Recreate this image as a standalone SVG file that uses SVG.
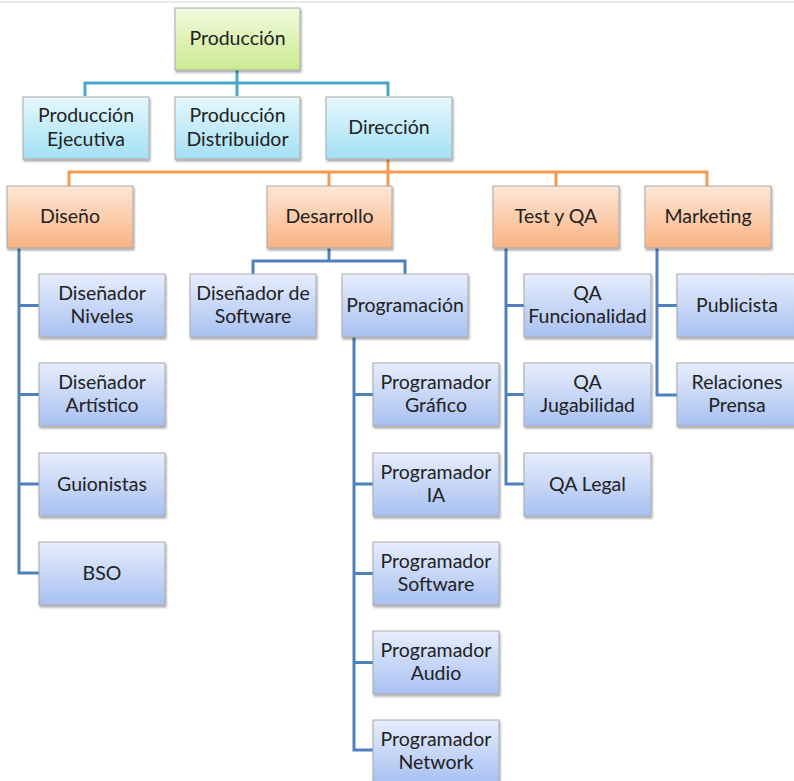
<svg xmlns="http://www.w3.org/2000/svg" width="794" height="781" viewBox="0 0 794 781">
<style>
.n{stroke:#a9a9a9;stroke-width:1;filter:url(#sh)}
.g{fill:url(#gG)}.c{fill:url(#gC)}.o{fill:url(#gO)}.b{fill:url(#gB)}
text{font-family:Lato,"Open Sans","Liberation Sans",sans-serif;font-size:19.5px;fill:#222;text-anchor:middle}
.l{fill:none;stroke-width:3;stroke-linejoin:miter}
.lt{stroke:#47a7c6}.lo{stroke:#f59a4e}.lb{stroke:#4f81bd}
</style>
<defs>
<linearGradient id="gG" x1="0" y1="0" x2="0" y2="1"><stop offset="0" stop-color="#f2fadf"/><stop offset="1" stop-color="#cbea90"/></linearGradient>
<linearGradient id="gC" x1="0" y1="0" x2="0" y2="1"><stop offset="0" stop-color="#e5f8fd"/><stop offset="1" stop-color="#a4e0f4"/></linearGradient>
<linearGradient id="gO" x1="0" y1="0" x2="0" y2="1"><stop offset="0" stop-color="#fde7d6"/><stop offset="1" stop-color="#f9b382"/></linearGradient>
<linearGradient id="gB" x1="0" y1="0" x2="0" y2="1"><stop offset="0" stop-color="#e7eefd"/><stop offset="1" stop-color="#a8c0f1"/></linearGradient>
<filter id="sh" x="-10%" y="-10%" width="130%" height="140%"><feDropShadow dx="1" dy="2" stdDeviation="1.3" flood-color="#000" flood-opacity="0.35"/></filter>
</defs>
<rect width="794" height="781" fill="#fff"/>
<line x1="0" y1="2" x2="794" y2="2" stroke="#e4e4e4" stroke-width="1.5"/>
<g id="connectors">
<path class="l lt" d="M237 70V96M85 96V83H388V96"/>
<path class="l lo" d="M388 159V186M69 186V172H707V186M329 172V186M556 172V186"/>
<path class="l lb" d="M19 248V573H39M19 305.5H39M19 394.5H39M19 484H39"/>
<path class="l lb" d="M329 248V261M253 274V261H405V274"/>
<path class="l lb" d="M354 337V750H373M354 394.5H373M354 484H373M354 573.5H373M354 662.5H373"/>
<path class="l lb" d="M506 248V484H524M506 305.5H524M506 394.5H524"/>
<path class="l lb" d="M657 248V395H677M657 305.5H677"/>
</g>
<g id="produccion"><rect class="n g" x="175" y="8" width="125" height="62"/><text x="237.5" y="45">Producción</text></g>
<g id="prod-ejecutiva"><rect class="n c" x="23" y="97" width="126" height="62"/><text x="86" y="122">Producción</text><text x="86" y="145.5">Ejecutiva</text></g>
<g id="prod-distribuidor"><rect class="n c" x="175" y="97" width="125" height="62"/><text x="237.5" y="122">Producción</text><text x="237.5" y="145.5">Distribuidor</text></g>
<g id="direccion"><rect class="n c" x="326" y="97" width="126" height="62"/><text x="389" y="134">Dirección</text></g>
<g id="diseno"><rect class="n o" x="7" y="186" width="126" height="62"/><text x="70" y="223">Diseño</text></g>
<g id="desarrollo"><rect class="n o" x="267" y="186" width="125" height="62"/><text x="329.5" y="223">Desarrollo</text></g>
<g id="test-qa"><rect class="n o" x="493" y="186" width="126" height="62"/><text x="556" y="223">Test y QA</text></g>
<g id="marketing"><rect class="n o" x="645" y="186" width="126" height="62"/><text x="708" y="223">Marketing</text></g>
<g id="dis-niveles"><rect class="n b" x="39" y="274" width="126" height="63"/><text x="102" y="299.5">Diseñador</text><text x="102" y="323">Niveles</text></g>
<g id="dis-artistico"><rect class="n b" x="39" y="363" width="126" height="63"/><text x="102" y="388.5">Diseñador</text><text x="102" y="412">Artístico</text></g>
<g id="guionistas"><rect class="n b" x="39" y="453" width="126" height="63"/><text x="102" y="490.5">Guionistas</text></g>
<g id="bso"><rect class="n b" x="39" y="542" width="126" height="63"/><text x="102" y="579.5">BSO</text></g>
<g id="dis-software"><rect class="n b" x="190" y="274" width="126" height="63"/><text x="253" y="299.5">Diseñador de</text><text x="253" y="323">Software</text></g>
<g id="programacion"><rect class="n b" x="342" y="274" width="126" height="63"/><text x="405" y="311.5">Programación</text></g>
<g id="prog-grafico"><rect class="n b" x="373" y="363" width="126" height="63"/><text x="436" y="388.5">Programador</text><text x="436" y="412">Gráfico</text></g>
<g id="prog-ia"><rect class="n b" x="373" y="453" width="126" height="63"/><text x="436" y="478.5">Programador</text><text x="436" y="502">IA</text></g>
<g id="prog-software"><rect class="n b" x="373" y="542" width="126" height="63"/><text x="436" y="567.5">Programador</text><text x="436" y="591">Software</text></g>
<g id="prog-audio"><rect class="n b" x="373" y="631" width="126" height="63"/><text x="436" y="656.5">Programador</text><text x="436" y="680">Audio</text></g>
<g id="prog-network"><rect class="n b" x="373" y="720" width="126" height="63"/><text x="436" y="745.5">Programador</text><text x="436" y="769">Network</text></g>
<g id="qa-func"><rect class="n b" x="524" y="274" width="127" height="63"/><text x="587.5" y="299.5">QA</text><text x="587.5" y="323">Funcionalidad</text></g>
<g id="qa-jug"><rect class="n b" x="524" y="363" width="127" height="63"/><text x="587.5" y="388.5">QA</text><text x="587.5" y="412">Jugabilidad</text></g>
<g id="qa-legal"><rect class="n b" x="524" y="453" width="127" height="63"/><text x="587.5" y="490.5">QA Legal</text></g>
<g id="publicista"><rect class="n b" x="677" y="274" width="126" height="63"/><text x="737" y="311.5">Publicista</text></g>
<g id="relaciones"><rect class="n b" x="677" y="363" width="126" height="63"/><text x="737" y="388.5">Relaciones</text><text x="737" y="412">Prensa</text></g>
</svg>
